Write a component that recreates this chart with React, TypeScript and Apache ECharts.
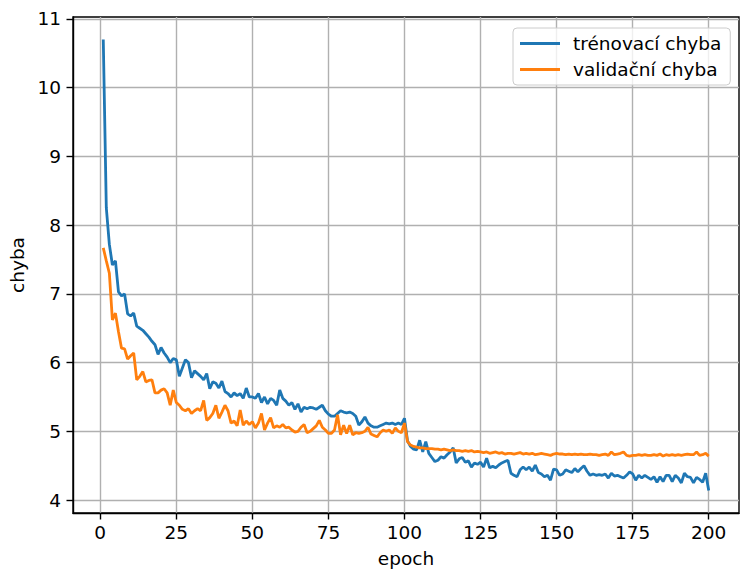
import React, { useEffect, useRef } from "react";
import * as echarts from "echarts";

const TRAIN_LABEL = "trénovací chyba";
const VALID_LABEL = "validační chyba";
const X_NAME = "epoch";
const Y_NAME = "chyba";

const xTicks = [0, 25, 50, 75, 100, 125, 150, 175, 200];
const yTicks = [4, 5, 6, 7, 8, 9, 10, 11];

const trainLoss = [
  10.70, 8.25, 7.72, 7.42, 7.48, 7.03, 6.97, 7.00, 6.71, 6.68,
  6.72, 6.53, 6.50, 6.47, 6.42, 6.37, 6.31, 6.26, 6.12, 6.22,
  6.14, 6.08, 6.00, 6.06, 6.04, 5.80, 5.92, 6.04, 6.00, 5.78,
  5.88, 5.84, 5.80, 5.75, 5.84, 5.62, 5.72, 5.70, 5.63, 5.73,
  5.58, 5.55, 5.50, 5.56, 5.52, 5.55, 5.48, 5.63, 5.50, 5.50,
  5.48, 5.55, 5.42, 5.50, 5.40, 5.48, 5.45, 5.38, 5.60, 5.48,
  5.44, 5.38, 5.42, 5.32, 5.40, 5.28, 5.35, 5.33, 5.35, 5.34,
  5.32, 5.35, 5.38, 5.30, 5.25, 5.22, 5.22, 5.26, 5.30, 5.28,
  5.27, 5.28, 5.26, 5.22, 5.09, 5.14, 5.21, 5.12, 5.08, 5.06,
  5.06, 5.08, 5.10, 5.12, 5.11, 5.12, 5.10, 5.12, 5.10, 5.19,
  4.86, 4.78, 4.74, 4.73, 4.87, 4.70, 4.85, 4.68, 4.62, 4.56,
  4.58, 4.63, 4.61, 4.66, 4.70, 4.76, 4.54, 4.60, 4.62, 4.55,
  4.57, 4.48, 4.54, 4.52, 4.55, 4.48, 4.61, 4.47, 4.49, 4.47,
  4.51, 4.54, 4.56, 4.58, 4.39, 4.36, 4.34, 4.44, 4.48, 4.44,
  4.48, 4.42, 4.51, 4.40, 4.38, 4.34, 4.36, 4.29, 4.45, 4.44,
  4.36, 4.38, 4.44, 4.42, 4.40, 4.46, 4.41, 4.46, 4.50, 4.42,
  4.36, 4.38, 4.36, 4.37, 4.36, 4.38, 4.32, 4.39, 4.35, 4.36,
  4.34, 4.32, 4.36, 4.41, 4.38, 4.29, 4.36, 4.32, 4.36, 4.33,
  4.30, 4.34, 4.26, 4.34, 4.27, 4.36, 4.36, 4.27, 4.36, 4.32,
  4.25, 4.39, 4.34, 4.33, 4.25, 4.33, 4.30, 4.26, 4.39, 4.14,
];

const validLoss = [
  7.67, 7.48, 7.30, 6.62, 6.72, 6.45, 6.21, 6.20, 6.05, 6.10,
  6.14, 5.75, 5.80, 5.87, 5.72, 5.74, 5.75, 5.56, 5.56, 5.60,
  5.62, 5.56, 5.38, 5.60, 5.42, 5.38, 5.32, 5.30, 5.33, 5.26,
  5.30, 5.33, 5.30, 5.45, 5.16, 5.20, 5.26, 5.38, 5.19, 5.28,
  5.38, 5.30, 5.12, 5.15, 5.08, 5.31, 5.09, 5.15, 5.10, 5.14,
  5.05, 5.12, 5.26, 5.02, 5.12, 5.20, 5.05, 5.08, 5.06, 5.10,
  5.05, 5.06, 5.02, 4.99, 5.00, 5.06, 5.10, 4.98, 5.00, 5.04,
  5.08, 5.16, 5.06, 5.02, 4.97, 4.97, 5.02, 5.24, 4.95, 5.09,
  4.97, 5.09, 4.95, 4.98, 4.97, 4.98, 5.00, 5.06, 4.96, 4.94,
  4.92, 4.98, 5.02, 5.00, 5.02, 4.97, 5.05, 5.00, 4.98, 5.12,
  4.85, 4.80, 4.78, 4.77, 4.76, 4.76, 4.75, 4.75, 4.75, 4.74,
  4.74, 4.73, 4.74, 4.73, 4.72, 4.73, 4.72, 4.72, 4.71, 4.72,
  4.71, 4.72, 4.70, 4.71, 4.70, 4.69, 4.70, 4.68, 4.69, 4.70,
  4.68, 4.69, 4.67, 4.68, 4.68, 4.67, 4.68, 4.69, 4.67, 4.68,
  4.67, 4.68, 4.66, 4.67, 4.68, 4.67, 4.66, 4.65, 4.67, 4.68,
  4.67, 4.67, 4.66, 4.67, 4.66, 4.67, 4.66, 4.67, 4.66, 4.66,
  4.67, 4.66, 4.66, 4.65, 4.66, 4.67, 4.65, 4.70, 4.66, 4.67,
  4.68, 4.70, 4.65, 4.64, 4.65, 4.65, 4.66, 4.65, 4.66, 4.65,
  4.65, 4.66, 4.65, 4.67, 4.64, 4.66, 4.65, 4.66, 4.65, 4.66,
  4.65, 4.66, 4.67, 4.66, 4.66, 4.70, 4.65, 4.66, 4.68, 4.64,
];

const FONT = "DejaVu Sans";
const FS = 18.5;

export default function App() {
  const ref = useRef<HTMLDivElement>(null);

  useEffect(() => {
    if (!ref.current) return;
    const chart = echarts.init(ref.current, undefined, { renderer: "svg" });
    const trainData = trainLoss.map((v, i) => [i + 1, v]);
    const validData = validLoss.map((v, i) => [i + 1, v]);
    const n = trainLoss.length;
    const allVals = trainLoss.concat(validLoss);
    const yMinData = Math.min(...allVals);
    const yMaxData = Math.max(...allVals);
    const yPad = (yMaxData - yMinData) * 0.05;
    const xPad = (n - 1) * 0.05;

    chart.setOption({
      animation: false,
      backgroundColor: "#ffffff",
      textStyle: { fontFamily: FONT },
      grid: {
        left: 73,
        top: 17,
        width: 666,
        height: 496,
        show: true,
        borderColor: "#000000",
        borderWidth: 1.4,
        backgroundColor: "transparent",
        containLabel: false,
        outerBoundsMode: "none",
      },
      legend: {
        orient: "vertical",
        left: 513,
        top: 28,
        padding: [6, 9, 6, 7],
        itemGap: 7,
        itemWidth: 40,
        itemHeight: 2.8,
        icon: "rect",
        backgroundColor: "rgba(255,255,255,0.8)",
        borderColor: "#cccccc",
        borderWidth: 1,
        borderRadius: 4,
        textStyle: {
          fontFamily: FONT,
          fontSize: FS,
          color: "#000000",
          padding: [0, 0, 0, 8],
        },
        data: [TRAIN_LABEL, VALID_LABEL],
      },
      xAxis: {
        type: "value",
        min: 1 - xPad,
        max: n + xPad,
        name: X_NAME,
        nameLocation: "middle",
        nameGap: 36,
        nameTextStyle: { fontFamily: FONT, fontSize: FS, color: "#000000" },
        axisLine: { show: true, onZero: false, lineStyle: { color: "#000000", width: 1.4 } },
        axisTick: {
          show: true,
          length: 6.5,
          lineStyle: { color: "#000000", width: 1.4 },
          customValues: xTicks,
        },
        axisLabel: {
          customValues: xTicks,
          fontFamily: FONT,
          fontSize: FS,
          color: "#000000",
          margin: 10,
          showMinLabel: true,
          showMaxLabel: true,
        },
        splitLine: { show: true, lineStyle: { color: "#b0b0b0", width: 1.4 } },
      },
      yAxis: {
        type: "value",
        min: yMinData - yPad,
        max: yMaxData + yPad,
        name: Y_NAME,
        nameLocation: "middle",
        nameGap: 42,
        nameTextStyle: { fontFamily: FONT, fontSize: FS, color: "#000000" },
        axisLine: { show: true, onZero: false, lineStyle: { color: "#000000", width: 1.4 } },
        axisTick: {
          show: true,
          length: 6.5,
          lineStyle: { color: "#000000", width: 1.4 },
          customValues: yTicks,
        },
        axisLabel: {
          customValues: yTicks,
          fontFamily: FONT,
          fontSize: FS,
          color: "#000000",
          margin: 12,
        },
        splitLine: { show: true, lineStyle: { color: "#b0b0b0", width: 1.4 } },
      },
      series: [
        {
          name: TRAIN_LABEL,
          type: "line",
          data: trainData,
          showSymbol: false,
          symbol: "none",
          color: "#1f77b4",
          lineStyle: { color: "#1f77b4", width: 2.8 },
          z: 3,
        },
        {
          name: VALID_LABEL,
          type: "line",
          data: validData,
          showSymbol: false,
          symbol: "none",
          color: "#ff7f0e",
          lineStyle: { color: "#ff7f0e", width: 2.8 },
          z: 4,
        },
      ],
    });
    return () => chart.dispose();
  }, []);

  return (
    <div
      ref={ref}
      style={{ position: "fixed", left: 0, top: 0, width: 740, height: 571, background: "#fff" }}
    />
  );
}
